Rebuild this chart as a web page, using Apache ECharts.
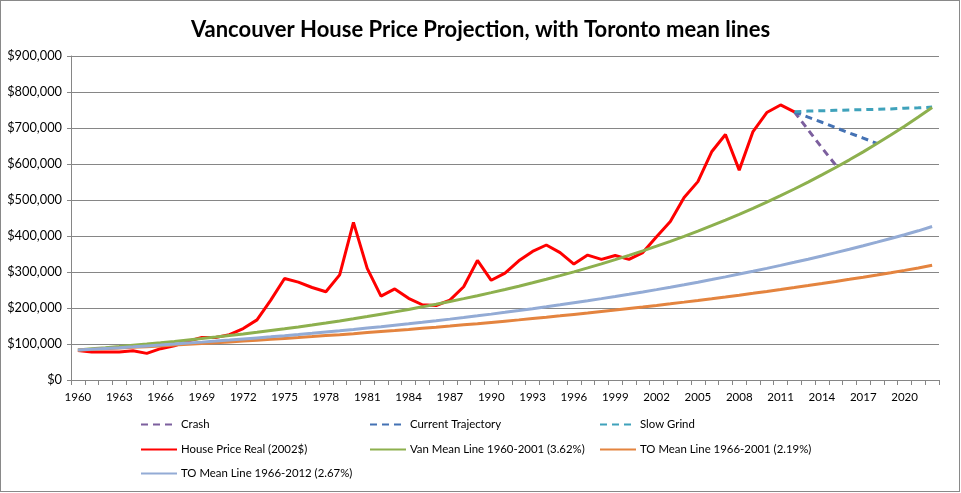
<!DOCTYPE html>
<html>
<head>
<meta charset="utf-8">
<script src="https://cdn.jsdelivr.net/npm/echarts@6/dist/echarts.min.js"></script>
<style>
html,body{margin:0;padding:0;background:#fff;}
#frame{position:absolute;left:0;top:0;width:958px;height:490px;border:1px solid #898989;}
#chart{position:absolute;left:0;top:0;width:961px;height:493px;}
</style>
</head>
<body>
<div id="frame"></div>
<div id="chart"></div>
<script>
// ---- data (values in $ thousands) ----
const years = [];
for (let y = 1960; y <= 2022; y++) years.push(String(y));

const housePriceReal = [82,78,78,78,81,74,87,95,108,118,118,126,143,167,222,282,272,257,245,292,438,310,233,253,227,209,207,222,259,332,277,297,331,357,375,354,322,347,335,346,335,354,398,440,507,551,634,682,583,690,743,764,745];

const crash = [745,695,645,597];               // 2012-2015
const currentTrajectory = [745,730,716,701,686,672,657]; // 2012-2018
const slowGrind = [745,747,748,749,750,751,752,753,755,756,758]; // 2012-2022

const vanMean = [83.5,86.6,89.7,92.9,96.4,99.8,103.4,107.1,111.1,115.1,119.2,123.6,128.0,132.6,137.5,142.4,147.5,152.9,158.4,164.1,170.1,176.2,182.7,189.2,196.1,203.2,210.6,218.1,226.1,234.2,242.7,251.4,260.6,270.0,279.7,289.9,300.4,311.3,322.5,334.2,346.3,358.8,371.8,385.3,399.2,413.7,428.6,444.1,460.2,476.8,494.1,512.0,530.5,549.7,569.7,590.2,611.6,633.7,656.7,680.4,705.1,730.6,757.1];

const toMean2001 = [83.0,84.9,86.8,88.7,90.7,92.7,94.7,96.9,99.0,101.2,103.5,105.8,108.1,110.5,113.0,115.5,118.0,120.6,123.3,126.0,128.8,131.7,134.6,137.5,140.5,143.6,146.7,149.9,153.2,156.5,160.0,163.5,167.0,170.7,174.4,178.2,182.1,186.0,190.1,194.2,198.5,202.8,207.2,211.7,216.3,221.0,225.8,230.7,235.7,240.8,246.0,251.3,256.7,262.3,268.0,273.8,279.7,285.7,291.8,298.1,304.5,311.1,318.6];

const toMean2012 = [83.0,85.2,87.5,89.8,92.2,94.7,97.2,99.8,102.5,105.2,108.0,110.9,113.9,116.9,120.0,123.2,126.5,129.9,133.4,136.9,140.6,144.4,148.2,152.2,156.2,160.4,164.7,169.1,173.6,178.2,183.0,187.9,192.9,198.1,203.4,208.8,214.4,220.1,226.0,232.0,238.2,244.6,251.1,257.8,264.7,271.8,279.1,286.5,294.2,302.0,310.1,318.4,326.9,335.6,344.6,353.8,363.2,372.9,382.9,393.1,403.6,414.4,426.5];

// ---- helpers ----
function toDollars(arr){ return arr.map(v => v == null ? null : v * 1000); }
function placeAt(startYear, arr){
  const out = years.map(() => null);
  const i0 = years.indexOf(String(startYear));
  arr.forEach((v, k) => { out[i0 + k] = v * 1000; });
  return out;
}

const FONT = 'Lato';
const names = {
  crash: 'Crash',
  cur: 'Current Trajectory',
  slow: 'Slow Grind',
  hp: 'House Price Real (2002$)',
  van: 'Van Mean Line 1960-2001 (3.62%)',
  to1: 'TO Mean Line 1966-2001 (2.19%)',
  to2: 'TO Mean Line 1966-2012 (2.67%)'
};

function legendAt(name, left, top){
  return {
    data: [name], left: left, top: top, orient: 'horizontal',
    itemWidth: 36, itemHeight: 10, itemGap: 4, padding: 0,
    itemStyle: {opacity: 0},
    textStyle: {fontFamily: FONT, fontSize: 11.4, color: '#000', padding: [0,0,0,-1]},
    selectedMode: false
  };
}

const chart = echarts.init(document.getElementById('chart'), null, {renderer: 'canvas'});
chart.setOption({
  animation: false,
  backgroundColor: 'transparent',
  title: {
    text: 'Vancouver House Price Projection, with Toronto mean lines',
    left: 'center', top: 14,
    textStyle: {fontFamily: FONT, fontSize: 22, fontWeight: 'bold', color: '#000'}
  },
  grid: {left: 71, right: 22, top: 56, bottom: 113, containLabel: false},
  legend: [
    legendAt(names.crash, 140, 419),
    legendAt(names.cur, 369, 419),
    legendAt(names.slow, 599, 419),
    legendAt(names.hp, 140, 444),
    legendAt(names.van, 369, 444),
    legendAt(names.to1, 599, 444),
    legendAt(names.to2, 140, 468)
  ],
  xAxis: {
    type: 'category', data: years, boundaryGap: true,
    axisLine: {lineStyle: {color: '#868686', width: 1}},
    axisTick: {show: true, interval: 0, length: 5, lineStyle: {color: '#868686'}},
    axisLabel: {interval: 2, fontFamily: FONT, fontSize: 11.5, color: '#000', margin: 11}
  },
  yAxis: {
    type: 'value', min: 0, max: 900000, interval: 100000,
    axisLine: {show: true, lineStyle: {color: '#868686'}},
    axisTick: {show: true, length: 4, lineStyle: {color: '#868686'}},
    splitLine: {lineStyle: {color: '#868686', width: 1}},
    axisLabel: {
      fontFamily: FONT, fontSize: 12.8, color: '#000', margin: 9,
      formatter: v => '$' + v.toLocaleString('en-US')
    }
  },
  series: [
    {name: names.crash, type: 'line', data: placeAt(2012, crash), symbol: 'none',
      lineStyle: {color: '#7c5f9e', width: 3, type: [7,5]}, itemStyle: {color: '#7c5f9e'}},
    {name: names.cur, type: 'line', data: placeAt(2012, currentTrajectory), symbol: 'none',
      lineStyle: {color: '#4472b4', width: 3, type: [7,5]}, itemStyle: {color: '#4472b4'}},
    {name: names.slow, type: 'line', data: placeAt(2012, slowGrind), symbol: 'none',
      lineStyle: {color: '#3fa2bb', width: 3, type: [7,5]}, itemStyle: {color: '#3fa2bb'}},
    {name: names.hp, type: 'line', data: toDollars(housePriceReal), symbol: 'none',
      lineStyle: {color: '#ff0000', width: 3}, itemStyle: {color: '#ff0000'}},
    {name: names.van, type: 'line', data: toDollars(vanMean), symbol: 'none',
      lineStyle: {color: '#8db04e', width: 3}, itemStyle: {color: '#8db04e'}},
    {name: names.to1, type: 'line', data: toDollars(toMean2001), symbol: 'none',
      lineStyle: {color: '#e4843f', width: 3}, itemStyle: {color: '#e4843f'}},
    {name: names.to2, type: 'line', data: toDollars(toMean2012), symbol: 'none',
      lineStyle: {color: '#93abd5', width: 3}, itemStyle: {color: '#93abd5'}}
  ]
});
</script>
</body>
</html>
